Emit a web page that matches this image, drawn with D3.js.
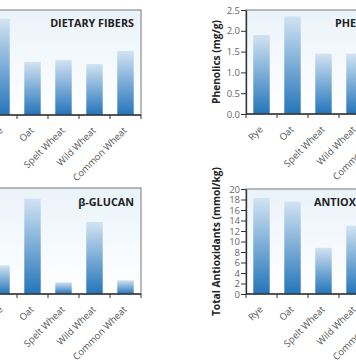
<!DOCTYPE html>
<html><head><meta charset="utf-8">
<script src="https://cdn.jsdelivr.net/npm/d3@7"></script>
<style>body{margin:0;background:#fff;overflow:hidden}svg{display:block}</style>
</head><body>
<svg id="c" width="356" height="364"></svg>
<script>
const categories = ["Rye","Oat","Spelt Wheat","Wild Wheat","Common Wheat"];
const fibers = [18.3, 10.1, 10.5, 9.7, 12.2];
const phenolics = [1.9, 2.35, 1.45, 1.45, 1.5];
const glucan = [1.35, 4.5, 0.55, 3.4, 0.65];
const antioxidants = [18.3, 17.6, 8.8, 13.0, 10.5];
const phenolicTicks = [0, 0.5, 1.0, 1.5, 2.0, 2.5];
const antioxTicks = [0,2,4,6,8,10,12,14,16,18,20];

const svg = d3.select("#c");
const defs = svg.append("defs");
const bg = defs.append("linearGradient").attr("id","bg").attr("x1",0).attr("y1",0).attr("x2",0).attr("y2",1);
bg.append("stop").attr("offset","0%").attr("stop-color","#eaf3fa");
bg.append("stop").attr("offset","100%").attr("stop-color","#ffffff");
const bar = defs.append("linearGradient").attr("id","bar").attr("x1",0).attr("y1",0).attr("x2",0).attr("y2",1);
bar.append("stop").attr("offset","0%").attr("stop-color","#d2e3f2");
bar.append("stop").attr("offset","100%").attr("stop-color","#2475ba");

const font = "'Open Sans', 'DejaVu Sans', sans-serif";

function chart(cfg){
  const {x0,x1,y0,y1,values,domain,ticks,fmt,title,titleX,titleAnchor,titleY,ylabel} = cfg;
  const g = svg.append("g");
  const x = d3.scaleBand().domain(categories).range([x0,x1]).paddingInner(0.47).paddingOuter(0.235);
  const y = d3.scaleLinear().domain(domain).range([y1,y0]);
  g.append("rect").attr("x",x0).attr("y",y0).attr("width",x1-x0).attr("height",y1-y0)
    .attr("fill","url(#bg)").attr("stroke","#8c8c8c").attr("stroke-width",1.2);
  g.selectAll("rect.b").data(values).join("rect").attr("class","b")
    .attr("x",(d,i)=>x(categories[i])).attr("width",x.bandwidth())
    .attr("y",d=>y(d)).attr("height",d=>y1-y(d)).attr("fill","url(#bar)");
  // x axis
  const bounds = d3.range(categories.length+1).map(i=>x0+i*(x1-x0)/categories.length);
  g.append("line").attr("x1",x0).attr("x2",x1).attr("y1",y1).attr("y2",y1).attr("stroke","#333").attr("stroke-width",1.3);
  g.selectAll("line.xt").data(bounds).join("line").attr("class","xt")
    .attr("x1",d=>d).attr("x2",d=>d).attr("y1",y1).attr("y2",y1+4).attr("stroke","#333");
  g.selectAll("text.xl").data(categories).join("text").attr("class","xl")
    .attr("transform",d=>`translate(${x(d)+x.bandwidth()/2+2},${y1+16}) rotate(-45)`)
    .attr("text-anchor","end").attr("font-family",font).attr("font-size",9.5).attr("fill","#555").text(d=>d);
  // y axis
  const ya = d3.axisLeft(y).tickValues(ticks).tickFormat(fmt).tickSize(5).tickSizeOuter(0);
  const ag = g.append("g").attr("transform",`translate(${x0},0)`).call(ya);
  ag.select(".domain").attr("stroke","#333").attr("stroke-width",1.3);
  ag.selectAll(".tick line").attr("stroke","#333");
  ag.selectAll(".tick text").attr("font-family",font).attr("font-size",9.5).attr("fill","#666").attr("x",-6);
  g.append("text").attr("transform",`translate(${x0-26},${(y0+y1)/2}) rotate(-90)`)
    .attr("text-anchor","middle").attr("font-family",font).attr("font-weight","bold").attr("font-size",10.2).attr("fill","#222").text(ylabel);
  g.append("text").attr("x",titleX).attr("y",titleY).attr("text-anchor",titleAnchor)
    .attr("font-family",font).attr("font-weight","bold").attr("font-size",10.8).attr("fill","#222").text(title);
}

chart({x0:-14,x1:141,y0:10,y1:115,values:fibers,domain:[0,20],ticks:[0,5,10,15,20],fmt:d3.format("d"),
  title:"DIETARY FIBERS",titleX:134,titleAnchor:"end",titleY:27,ylabel:"Dietary Fibers (%)"});
chart({x0:246,x1:401,y0:10,y1:114,values:phenolics,domain:[0,2.5],ticks:phenolicTicks,fmt:d3.format(".1f"),
  title:"PHENOLICS",titleX:335,titleAnchor:"start",titleY:27,ylabel:"Phenolics (mg/g)"});
chart({x0:-14,x1:141,y0:188,y1:294,values:glucan,domain:[0,5],ticks:[0,1,2,3,4,5],fmt:d3.format("d"),
  title:"β-GLUCAN",titleX:134,titleAnchor:"end",titleY:206,ylabel:"β-Glucan (%)"});
chart({x0:246,x1:401,y0:189,y1:294,values:antioxidants,domain:[0,20],ticks:antioxTicks,fmt:d3.format("d"),
  title:"ANTIOXIDANTS",titleX:314,titleAnchor:"start",titleY:206,ylabel:"Total Antioxidants (mmol/kg)"});
</script>
</body></html>
